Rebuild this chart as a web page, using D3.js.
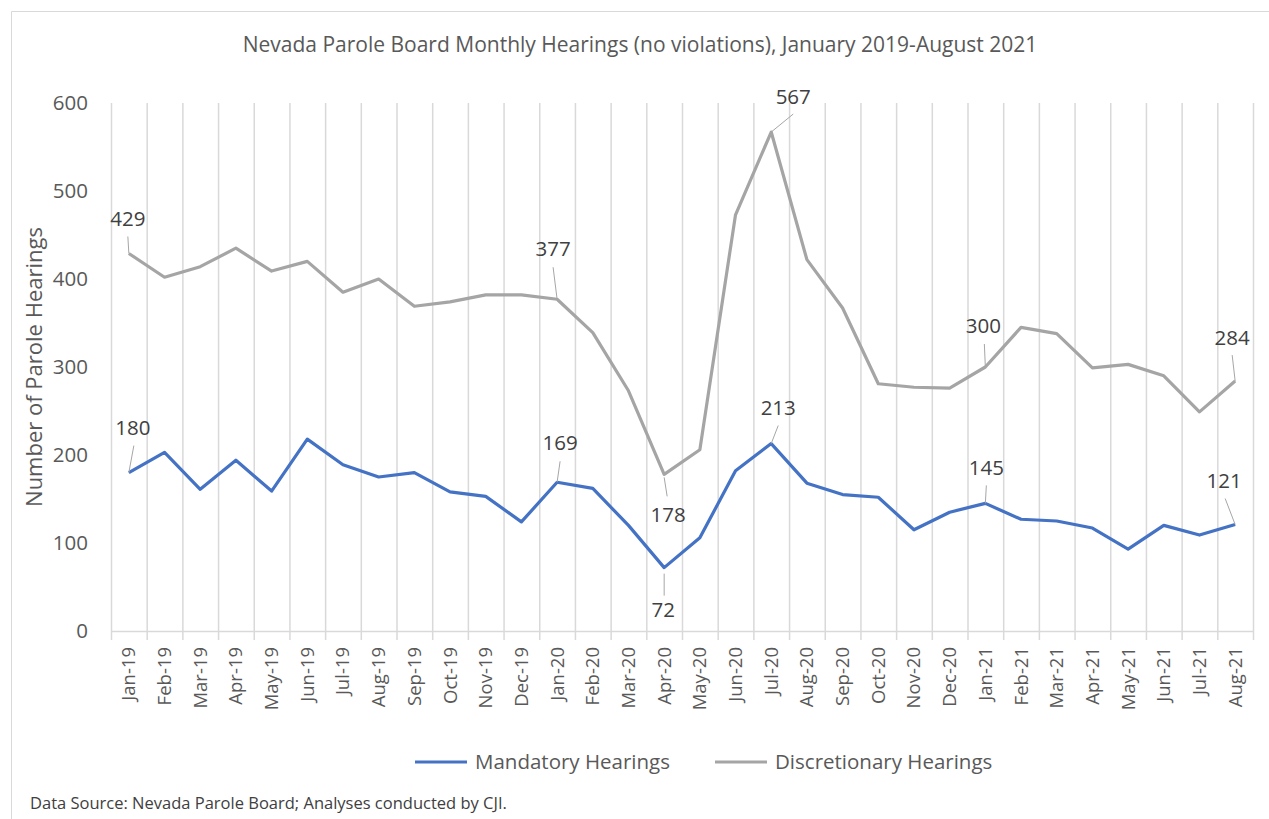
<!DOCTYPE html>
<html>
<head>
<meta charset="utf-8">
<script src="https://cdn.jsdelivr.net/npm/d3@7"></script>
<style>
  body { margin: 0; background: #fff; }
  svg { display: block; font-family: "Open Sans", sans-serif; }
</style>
</head>
<body>
<div class="chart"></div>
<script>
// months on the x axis
const months = ["Jan-19", "Feb-19", "Mar-19", "Apr-19", "May-19", "Jun-19", "Jul-19", "Aug-19",
    "Sep-19", "Oct-19", "Nov-19", "Dec-19", "Jan-20", "Feb-20", "Mar-20", "Apr-20",
    "May-20", "Jun-20", "Jul-20", "Aug-20", "Sep-20", "Oct-20", "Nov-20", "Dec-20",
    "Jan-21", "Feb-21", "Mar-21", "Apr-21", "May-21", "Jun-21", "Jul-21", "Aug-21"];

// monthly hearings
const mandatory = [180, 203, 161, 194, 159, 218, 189, 175, 180, 158, 153, 124,
    169, 162, 120, 72, 106, 182, 213, 168, 155, 152, 115, 135,
    145, 127, 125, 117, 93, 120, 109, 121];
const discretionary = [429, 402, 414, 435, 409, 420, 385, 400, 369, 374, 382, 382,
    377, 339, 273, 178, 206, 473, 567, 422, 367, 281, 277, 276,
    300, 345, 338, 299, 303, 290, 249, 284];

const yTicks = [0, 100, 200, 300, 400, 500, 600];

// which points carry a value label (month index)
const mandatoryLabels = [0, 12, 15, 18, 24, 31];
const discretionaryLabels = [0, 12, 15, 18, 24, 31];

// label placement: offset of text centre from the point, and leader line ends
const labelPos = {
    m0: { dx: 4, dy: -45, l: [5, -27, 0, 0] },
    m12: { dx: 3, dy: -39, l: [3, -21, 0, 0] },
    m15: { dx: -1, dy: 42, l: [0, 6, 0, 28] },
    m18: { dx: 7, dy: -36, l: [7, -18, 0, 0] },
    m24: { dx: 1, dy: -36, l: [1, -18, 0, 0] },
    m31: { dx: -11, dy: -44, l: [-10, -26, 0, 0] },
    d0: { dx: -1, dy: -35, l: [-1, -17, 0, 0] },
    d12: { dx: -4, dy: -50, l: [-4, -32, 0, 0] },
    d15: { dx: 4, dy: 40, l: [0, 3, 3, 22] },
    d18: { dx: 22, dy: -35, l: [22, -18, 0, 0] },
    d24: { dx: -2, dy: -41, l: [-1, -23, 0, 0] },
    d31: { dx: -3, dy: -43, l: [-3, -26, 0, 0] }
};

const w = 1269, h = 819;
const plot = { left: 111, right: 1253, top: 103, bottom: 631 };

const svg = d3.select("div.chart")
    .append("svg")
    .attr("width", w)
    .attr("height", h);

// chart border (top and left are visible in the picture)
svg.append("path")
    .attr("d", "M11.5," + h + "V11.5H" + w)
    .attr("fill", "none")
    .attr("stroke", "#d9d9d9")
    .attr("stroke-width", 1);

// scales
const xScale = d3.scaleBand()
    .domain(months)
    .range([plot.left, plot.right])
    .padding(0);

const yScale = d3.scaleLinear()
    .domain([0, 600])
    .range([plot.bottom, plot.top]);

const xc = (i) => xScale(months[i]) + xScale.bandwidth() / 2;

// title
svg.append("text")
    .attr("x", 640)
    .attr("y", 45)
    .attr("dy", "0.35em")
    .attr("text-anchor", "middle")
    .attr("font-size", 21)
    .attr("fill", "#595959")
    .text("Nevada Parole Board Monthly Hearings (no violations), January 2019-August 2021");

// vertical gridlines at category boundaries
const bounds = months.map((m) => xScale(m)).concat([plot.right]);
svg.append("g")
    .selectAll("line")
    .data(bounds)
    .enter()
    .append("line")
    .attr("x1", (d) => d + 0.5)
    .attr("x2", (d) => d + 0.5)
    .attr("y1", plot.top)
    .attr("y2", plot.bottom + 9)
    .attr("stroke", "#d9d9d9")
    .attr("stroke-width", 1.5);

// x axis
const xAxis = d3.axisBottom(xScale).tickSize(0).tickPadding(0);
const gx = svg.append("g")
    .attr("id", "x-axis")
    .attr("transform", "translate(0," + plot.bottom + ")")
    .call(xAxis);
gx.select(".domain")
    .attr("stroke", "#d9d9d9")
    .attr("stroke-width", 1.5)
    .attr("d", "M" + plot.left + ",0.5H" + plot.right);
gx.selectAll("text")
    .attr("transform", "rotate(-90)")
    .attr("text-anchor", "end")
    .attr("x", -16)
    .attr("y", 0)
    .attr("dy", "0.35em")
    .attr("font-size", 18.5)
    .attr("font-family", "Open Sans, sans-serif")
    .attr("fill", "#595959");

// y axis (labels only)
const yAxis = d3.axisLeft(yScale).tickValues(yTicks).tickSize(0).tickPadding(23);
const gy = svg.append("g")
    .attr("id", "y-axis")
    .attr("transform", "translate(" + plot.left + ",0)")
    .call(yAxis);
gy.select(".domain").remove();
gy.selectAll("text")
    .attr("font-size", 20.5)
    .attr("font-family", "Open Sans, sans-serif")
    .attr("fill", "#595959");

svg.append("text")
    .attr("transform", "translate(34," + ((plot.top + plot.bottom) / 2) + ") rotate(-90)")
    .attr("text-anchor", "middle")
    .attr("dy", "0.35em")
    .attr("font-size", 22)
    .attr("fill", "#595959")
    .text("Number of Parole Hearings");

// lines
const line = d3.line()
    .x((d, i) => xc(i))
    .y((d) => yScale(d));

const series = [
    { key: "d", name: "Discretionary Hearings", values: discretionary, color: "#a5a5a5", labels: discretionaryLabels },
    { key: "m", name: "Mandatory Hearings", values: mandatory, color: "#4472c4", labels: mandatoryLabels }
];

series.forEach((s) => {
    svg.append("path")
        .datum(s.values)
        .attr("fill", "none")
        .attr("stroke", s.color)
        .attr("stroke-width", 3.2)
        .attr("stroke-linejoin", "round")
        .attr("d", line);
});

// data labels with leader lines
series.forEach((s) => {
    const g = svg.append("g");
    s.labels.forEach((i) => {
        const p = labelPos[s.key + i];
        const px = xc(i), py = yScale(s.values[i]);
        g.append("line")
            .attr("x1", px + p.l[0])
            .attr("y1", py + p.l[1])
            .attr("x2", px + p.l[2])
            .attr("y2", py + p.l[3])
            .attr("stroke", "#a6a6a6")
            .attr("stroke-width", 1);
        g.append("text")
            .attr("x", px + p.dx)
            .attr("y", py + p.dy)
            .attr("dy", "0.35em")
            .attr("text-anchor", "middle")
            .attr("font-size", 20.5)
            .attr("fill", "#404040")
            .text(s.values[i]);
    });
});

// legend
const legend = [
    { name: "Mandatory Hearings", color: "#4472c4", x: 415 },
    { name: "Discretionary Hearings", color: "#a5a5a5", x: 715 }
];
legend.forEach((d) => {
    svg.append("line")
        .attr("x1", d.x)
        .attr("x2", d.x + 52)
        .attr("y1", 762)
        .attr("y2", 762)
        .attr("stroke", d.color)
        .attr("stroke-width", 3.2);
    svg.append("text")
        .attr("x", d.x + 60)
        .attr("y", 762)
        .attr("dy", "0.35em")
        .attr("font-size", 20.5)
        .attr("fill", "#595959")
        .text(d.name);
});

// footnote
svg.append("text")
    .attr("x", 30)
    .attr("y", 803)
    .attr("dy", "0.35em")
    .attr("font-size", 16.5)
    .attr("fill", "#404040")
    .text("Data Source: Nevada Parole Board; Analyses conducted by CJI.");
</script>
</body>
</html>
